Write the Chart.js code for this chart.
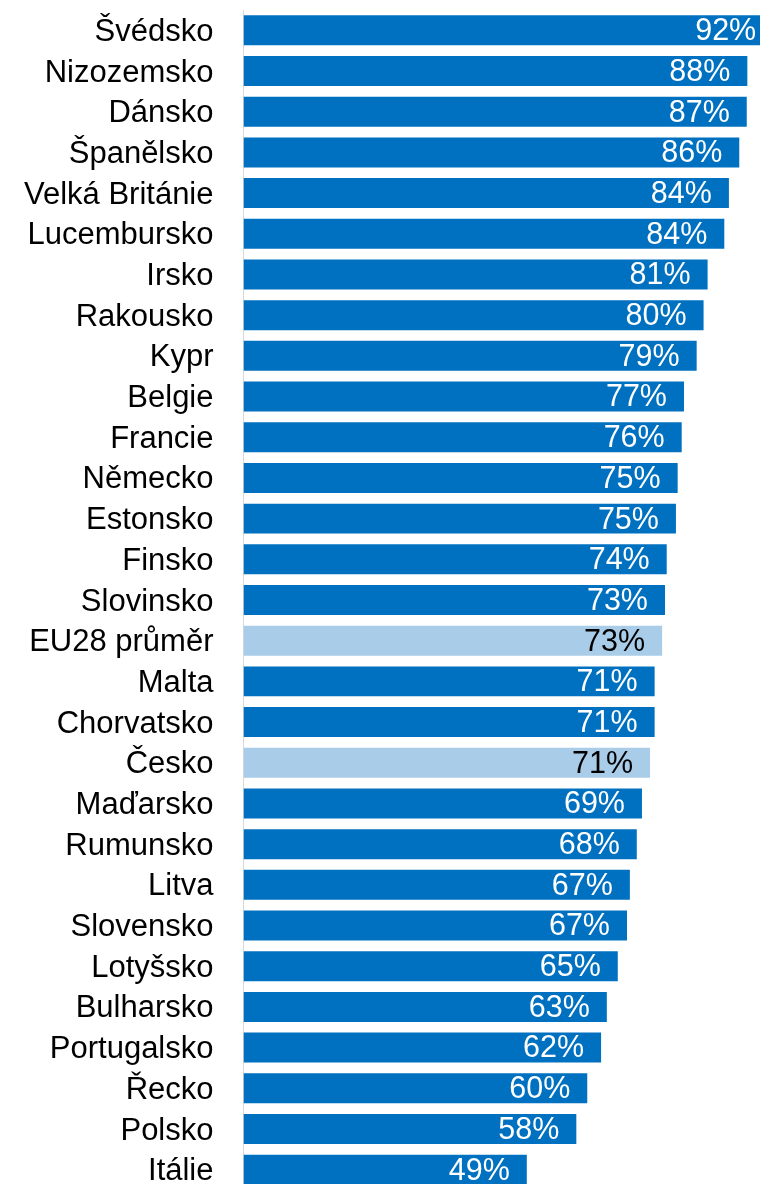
<!DOCTYPE html>
<html lang="cs">
<head>
<meta charset="utf-8">
<title>Podíl podle zemí</title>
<script src="https://cdn.jsdelivr.net/npm/chart.js@4.4.1/dist/chart.umd.min.js"></script>
<style>
    html, body { margin: 0; padding: 0; background: #ffffff; overflow: hidden; }
    #chart-wrap { width: 760px; height: 1190px; }
</style>
</head>
<body>
<div id="chart-wrap">
    <canvas id="country-chart" width="760" height="1190"></canvas>
</div>
<script>
// Countries, top to bottom
const countries = [
    'Švédsko', 'Nizozemsko', 'Dánsko', 'Španělsko', 'Velká Británie', 'Lucembursko',
    'Irsko', 'Rakousko', 'Kypr', 'Belgie', 'Francie', 'Německo', 'Estonsko', 'Finsko',
    'Slovinsko', 'EU28 průměr', 'Malta', 'Chorvatsko', 'Česko', 'Maďarsko', 'Rumunsko',
    'Litva', 'Slovensko', 'Lotyšsko', 'Bulharsko', 'Portugalsko', 'Řecko', 'Polsko', 'Itálie'
];

// Bar lengths (in %)
const shares = [
    92.0, 87.5, 87.4, 86.1, 84.3, 83.5,
    80.6, 79.9, 78.7, 76.5, 76.1, 75.4, 75.1, 73.5,
    73.2, 72.7, 71.4, 71.4, 70.6, 69.2, 68.3,
    67.1, 66.6, 65.0, 63.1, 62.1, 59.7, 57.8, 49.2
];

// Printed labels
const shareLabels = [
    '92%', '88%', '87%', '86%', '84%', '84%',
    '81%', '80%', '79%', '77%', '76%', '75%', '75%', '74%',
    '73%', '73%', '71%', '71%', '71%', '69%', '68%',
    '67%', '67%', '65%', '63%', '62%', '60%', '58%', '49%'
];

// Highlighted rows (light bars, dark text)
const highlighted = ['EU28 průměr', 'Česko'];

const DARK_BLUE = '#0070c0';
const LIGHT_BLUE = '#a9cde8';

const barColors = countries.map(c => highlighted.includes(c) ? LIGHT_BLUE : DARK_BLUE);

// Draws the value inside the end of each bar
const valueLabelPlugin = {
    id: 'valueLabels',
    afterDatasetsDraw(chart) {
        const ctx = chart.ctx;
        const meta = chart.getDatasetMeta(0);
        ctx.save();
        ctx.font = '30.5px "Liberation Sans", Arial, sans-serif';
        ctx.textAlign = 'right';
        ctx.textBaseline = 'middle';
        meta.data.forEach((bar, i) => {
            ctx.fillStyle = highlighted.includes(countries[i]) ? '#000000' : '#ffffff';
            ctx.fillText(shareLabels[i], bar.x - 17, bar.y + 1.5);
        });
        ctx.restore();
    }
};

function renderChart() {
    const canvas = document.getElementById('country-chart');
    const ctx = canvas.getContext('2d');

    new Chart(ctx, {
        type: 'bar',
        data: {
            labels: countries,
            datasets: [{
                data: shares,
                backgroundColor: barColors,
                borderWidth: 0,
                barPercentage: 0.737,
                categoryPercentage: 1,
            }]
        },
        options: {
            indexAxis: 'y',
            responsive: false,
            animation: false,
            layout: {
                padding: { top: 10, right: 0, bottom: 0, left: 0 }
            },
            plugins: {
                legend: { display: false },
                tooltip: { enabled: false },
            },
            scales: {
                x: {
                    display: false,
                    min: 0,
                    max: 89.7,
                },
                y: {
                    // fixed label column; no extra padding above/below the bars
                    afterFit: (axis) => {
                        axis.width = 243.5;
                        axis.paddingTop = 0;
                        axis.paddingBottom = 0;
                    },
                    grid: { display: false, drawTicks: false },
                    border: { display: true, color: '#d9d9d9', width: 1 },
                    ticks: {
                        color: '#000000',
                        padding: 30,
                        labelOffset: 2,
                        autoSkip: false,
                        font: { family: '"Liberation Sans", Arial, sans-serif', size: 31 },
                    }
                }
            }
        },
        plugins: [valueLabelPlugin]
    });
}

renderChart();
</script>
</body>
</html>
